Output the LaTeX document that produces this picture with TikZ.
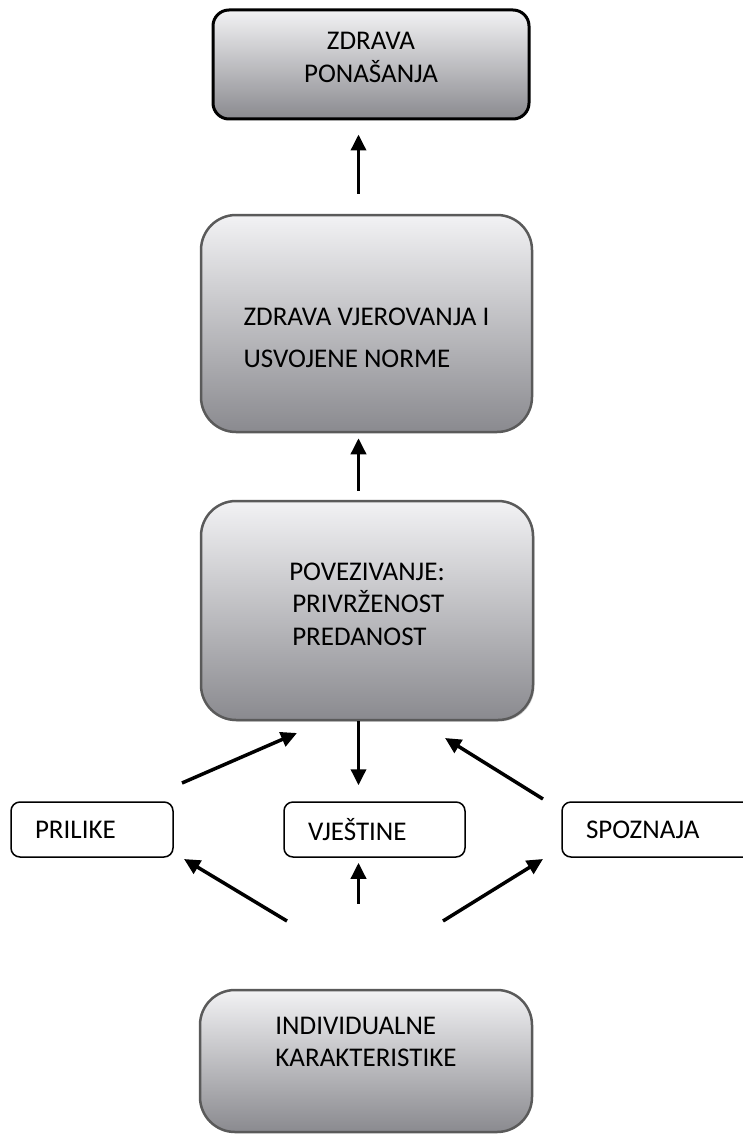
\documentclass[tikz,border=0pt]{standalone}
\usepackage{fontspec}
\setmainfont{Carlito}
\usetikzlibrary{arrows.meta,shadows}
\definecolor{gtop}{RGB}{242,242,244}
\definecolor{gbot}{RGB}{138,138,143}
\definecolor{bordergray}{RGB}{90,90,90}
\begin{document}
\begin{tikzpicture}[x=1pt,y=-1pt,
  every node/.style={font=\fontsize{27}{32.5}\selectfont, inner sep=0pt},
  bigbox/.style={draw=bordergray, line width=2.5pt, rounded corners=35pt,
    top color=gtop, bottom color=gbot, align=left},
  topbox/.style={draw=black, line width=3pt, rounded corners=16pt,
    top color=gtop, bottom color=gbot, align=center},
  smallbox/.style={draw=black, line width=1.5pt, rounded corners=9pt,
    fill=white, minimum height=55pt, align=left, inner xsep=24pt},
  arr/.style={line width=3.5pt, -{Triangle[length=16pt,width=15pt]}}]
\useasboundingbox (0,0) rectangle (743,1134);
\coordinate (ax) at (358.5,0);
% boxes
\node[topbox, minimum width=316pt, minimum height=109pt, text depth=14pt] (b1) at (371,64.5)
  {ZDRAVA\\PONAŠANJA};
\node[bigbox, minimum width=331pt, minimum height=217pt] (b2) at (366.5,323.5)
  {\rule{0pt}{46pt}ZDRAVA VJEROVANJA I\\[9pt]USVOJENE NORME};
\node[bigbox, minimum width=332pt, minimum height=219pt, text depth=13pt,
  drop shadow={shadow xshift=1.5pt, shadow yshift=-1.5pt, fill=gray!70}] (b3) at (367,610.5)
  {POVEZIVANJE:\\\hspace*{3pt}PRIVRŽENOST\\\hspace*{3pt}PREDANOST};
\node[bigbox, minimum width=332pt, minimum height=142pt, text depth=38pt] (b4) at (366,1061)
  {INDIVIDUALNE\\KARAKTERISTIKE};
\node[smallbox, text width=114pt] (pr) at (92,829.5) {PRILIKE};
\node[smallbox, text width=133pt] (vj) at (374.5,829.5) {VJEŠTINE};
\node[smallbox, text width=150pt] (sp) at (661,829.5) {SPOZNAJA};
% free ends
\coordinate (pa1) at (182,783);
\coordinate (pa2) at (297,733);
\coordinate (sa1) at (543,799);
\coordinate (sa2) at (445,738);
\coordinate (ba1) at (287,921);
\coordinate (ba2) at (184,859);
\coordinate (bb1) at (443,921);
\coordinate (bb2) at (543,859);
% connectors
\draw[arr, shorten <=20pt, shorten >=14pt] (b2.north -| ax) -- (b1.south -| ax);
\draw[arr, shorten <=9pt, shorten >=5pt] (b3.north -| ax) -- (b2.south -| ax);
\draw[arr, shorten >=16pt] (b3.south -| ax) -- (vj.north -| ax);
\draw[arr, shorten <=85pt, shorten >=5pt] (b4.north -| ax) -- (vj.south -| ax);
\draw[arr] (pa1) -- (pa2);
\draw[arr] (sa1) -- (sa2);
\draw[arr] (ba1) -- (ba2);
\draw[arr] (bb1) -- (bb2);
\end{tikzpicture}
\end{document}
